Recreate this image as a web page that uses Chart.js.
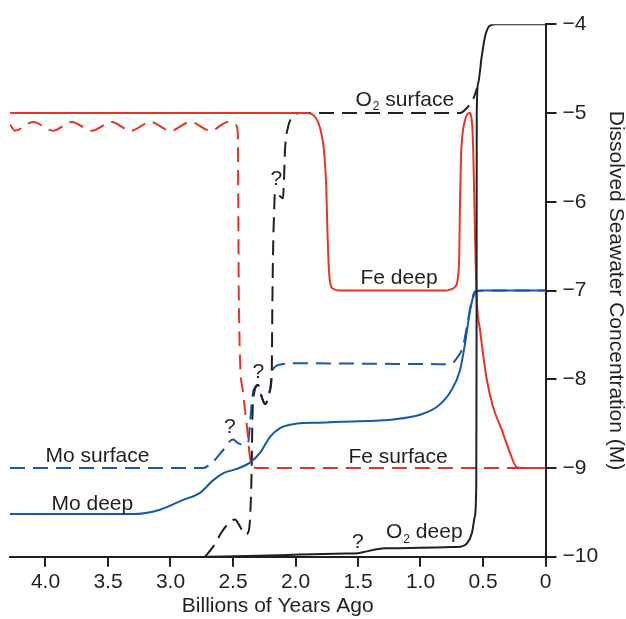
<!DOCTYPE html>
<html>
<head>
<meta charset="utf-8">
<script src="https://cdn.jsdelivr.net/npm/chart.js@4.4.1/dist/chart.umd.min.js"></script>
<style>
  html, body { margin: 0; padding: 0; background: #fff; }
  #wrap { width: 626px; height: 619px; }
</style>
</head>
<body>
<div id="wrap"><canvas id="chart"></canvas></div>
<script>
// ages in billions of years ago, concentrations as log10 (M)
const feDeepAge = [4.284, 2.2, 1.908, 1.86, 1.82, 1.79, 1.77, 1.755, 1.745, 1.735, 1.724, 1.70, 1.64, 0.80, 0.764, 0.724, 0.70, 0.69, 0.684, 0.676, 0.665, 0.644, 0.61, 0.59, 0.578, 0.564, 0.55, 0.524, 0.47, 0.42, 0.35, 0.284, 0.23, 0.18, 0];
const feDeepConc = [-5, -5, -5, -5.02, -5.1, -5.25, -5.45, -5.8, -6.3, -6.7, -6.9, -6.98, -7, -7, -6.99, -6.96, -6.85, -6.6, -6.0, -5.5, -5.25, -5.08, -5.0, -5.08, -5.42, -6.36, -7.1, -7.44, -8.0, -8.31, -8.57, -8.83, -8.99, -9, -9];

const feSurfAge = [4.284, 4.244, 4.10, 3.94, 3.79, 3.63, 3.47, 3.32, 3.16, 3.00, 2.84, 2.68, 2.54, 2.484, 2.462, 2.458, 2.454, 2.45, 2.444, 2.42, 2.388, 2.364, 2.34, 2.30, 0];
const feSurfConc = [-5.13, -5.2, -5.1, -5.2, -5.1, -5.2, -5.1, -5.2, -5.1, -5.2, -5.1, -5.2, -5.1, -5.13, -5.21, -6.0, -7.0, -7.4, -7.78, -8.15, -8.54, -8.88, -8.99, -9, -9];

const o2SurfAge = [2.724, 2.66, 2.58, 2.524, 2.484, 2.444, 2.404, 2.38, 2.364, 2.352, 2.344, 2.33, 2.30, 2.27, 2.244, 2.22, 2.204, 2.19, 2.186, 2.18, 2.172, 2.164, 2.13, 2.10, 2.092, 2.084, 2.06, 2.02, 1.964, 0.684, 0.628, 0.58, 0.548];
const o2SurfConc = [-10, -9.89, -9.7, -9.61, -9.58, -9.66, -9.75, -9.73, -9.58, -9.1, -8.4, -8.15, -8.065, -8.2, -8.28, -8.22, -8.12, -7.93, -7.3, -6.6, -6.15, -5.89, -5.93, -5.96, -5.75, -5.42, -5.16, -5.04, -5.0, -5.0, -4.94, -4.85, -4.72];

const o2DeepAge = [2.71, 2.3, 1.96, 1.6, 1.5, 1.43, 1.35, 1.27, 1.0, 0.75, 0.684, 0.628, 0.588, 0.566, 0.554, 0.552, 0.551, 0.55, 0.5385, 0.511, 0.484, 0.46, 0.43, 0.40, 0];
const o2DeepConc = [-10, -9.99, -9.975, -9.965, -9.96, -9.94, -9.917, -9.906, -9.9, -9.892, -9.888, -9.85, -9.73, -9.55, -9.2, -8.0, -6.5, -5.0, -4.66, -4.37, -4.14, -4.04, -4.005, -4.0, -4.0];

const moSurfAge = [4.284, 2.74, 2.66, 2.58, 2.50, 2.46, 2.42, 2.38, 2.364, 2.352, 2.34, 2.316, 2.30, 2.27, 2.244, 2.22, 2.204, 2.188, 2.164, 2.108, 2.028, 0.76, 0.708, 0.66, 0.628, 0.588, 0.564, 0.5, 0];
const moSurfConc = [-9, -9, -8.93, -8.8, -8.68, -8.72, -8.74, -8.72, -8.5, -8.3, -8.15, -8.08, -8.065, -8.2, -8.28, -8.22, -8.12, -7.93, -7.86, -7.83, -7.82, -7.83, -7.76, -7.63, -7.4, -7.1, -7.01, -7, -7];

const moDeepAge = [4.284, 3.30, 3.084, 2.90, 2.764, 2.66, 2.58, 2.468, 2.364, 2.284, 2.204, 2.124, 1.988, 1.804, 1.644, 1.2, 1.004, 0.868, 0.764, 0.684, 0.644, 0.604, 0.58, 0.548, 0.50, 0];
const moDeepConc = [-9.52, -9.52, -9.47, -9.36, -9.28, -9.14, -9.06, -9.01, -8.94, -8.83, -8.65, -8.55, -8.5, -8.49, -8.48, -8.45, -8.4, -8.31, -8.15, -7.9, -7.6, -7.23, -7.08, -7.01, -7, -7];

// axis ticks
const xTickValues = [0, 0.5, 1.0, 1.5, 2.0, 2.5, 3.0, 3.5, 4.0];
const yTickValues = [-10, -9, -8, -7, -6, -5, -4];

// text labels in the plot, placed in data units (left edge, baseline)
const noteText = ['O_2 surface', 'Fe deep', 'Fe surface', 'Mo surface', 'Mo deep', 'O_2 deep', '?', '?', '?', '?'];
const noteAge = [1.52, 1.48, 1.576, 4.0, 3.952, 1.276, 1.548, 2.572, 2.344, 2.2];
const noteConc = [-4.918, -6.925, -8.94, -8.93, -9.474, -9.79, -9.906, -8.61, -7.99, -5.81];

const red = '#e6332a';
const blue = '#1559a8';
const black = '#231f20';
const fontFamily = "'Liberation Sans', Arial, Helvetica, sans-serif";

function toPoints(ages, concs) {
    const pts = [];
    for (let i = 0; i < ages.length; i++) {
        pts.push({ x: ages[i], y: concs[i] });
    }
    return pts;
}

function makeLine(label, ages, concs, color, dashed) {
    return {
        label: label,
        data: toPoints(ages, concs),
        borderColor: color,
        borderWidth: 2,
        borderDash: dashed ? [15, 8] : [],
        pointRadius: 0,
        fill: false,
        cubicInterpolationMode: 'monotone'
    };
}

// draws the series names and question marks
const notesPlugin = {
    id: 'notes',
    afterDatasetsDraw(chart) {
        const ctx = chart.ctx;
        const xs = chart.scales.x;
        const ys = chart.scales.y;
        ctx.save();
        ctx.fillStyle = black;
        ctx.textAlign = 'left';
        ctx.textBaseline = 'alphabetic';
        for (let i = 0; i < noteText.length; i++) {
            let px = xs.getPixelForValue(noteAge[i]);
            const py = ys.getPixelForValue(noteConc[i]);
            const parts = noteText[i].split('_');
            ctx.font = '21px ' + fontFamily;
            ctx.fillText(parts[0], px, py);
            px += ctx.measureText(parts[0]).width;
            for (let j = 1; j < parts.length; j++) {
                const sub = parts[j].charAt(0);
                const rest = parts[j].slice(1);
                ctx.font = '12px ' + fontFamily;
                ctx.fillText(sub, px + 1, py + 4.5);
                px += ctx.measureText(sub).width + 1;
                ctx.font = '21px ' + fontFamily;
                ctx.fillText(rest, px, py);
                px += ctx.measureText(rest).width;
            }
        }
        ctx.restore();
    }
};

new Chart(document.getElementById('chart'), {
    type: 'line',
    data: {
        datasets: [
            makeLine('O2 deep', o2DeepAge, o2DeepConc, black, false),
            makeLine('Fe deep', feDeepAge, feDeepConc, red, false),
            makeLine('Mo deep', moDeepAge, moDeepConc, blue, false),
            makeLine('O2 surface', o2SurfAge, o2SurfConc, black, true),
            makeLine('Fe surface', feSurfAge, feSurfConc, red, true),
            makeLine('Mo surface', moSurfAge, moSurfConc, blue, true)
        ]
    },
    options: {
        responsive: true,
        maintainAspectRatio: false,
        animation: false,
        layout: { padding: { left: 10, top: 24.3, right: 0, bottom: 0 } },
        plugins: {
            legend: { display: false },
            tooltip: { enabled: false }
        },
        scales: {
            x: {
                type: 'linear',
                reverse: true,
                min: 0,
                max: 4.284,
                afterBuildTicks: scale => {
                    scale.ticks = xTickValues.map(v => ({ value: v }));
                },
                afterFit: scale => { scale.height = 62.3; },
                grid: { drawOnChartArea: false, drawTicks: true, tickLength: 10, color: black, lineWidth: 2 },
                border: { display: true, color: black, width: 2 },
                ticks: {
                    padding: 3,
                    color: black,
                    font: { family: fontFamily, size: 21 },
                    callback: v => v === 0 ? '0' : v.toFixed(1)
                },
                title: {
                    display: true,
                    text: 'Billions of Years Ago',
                    color: black,
                    padding: 0,
                    font: { family: fontFamily, size: 21 }
                }
            },
            y: {
                type: 'linear',
                position: 'right',
                min: -10,
                max: -4,
                afterBuildTicks: scale => {
                    scale.ticks = yTickValues.map(v => ({ value: v }));
                },
                afterFit: scale => { scale.width = 80.5; },
                grid: { drawOnChartArea: false, drawTicks: true, tickLength: 11, color: black, lineWidth: 2 },
                border: { display: true, color: black, width: 2 },
                ticks: {
                    padding: 6,
                    color: black,
                    font: { family: fontFamily, size: 21 },
                    callback: v => '\u2212' + Math.abs(v)
                },
                title: {
                    display: true,
                    text: 'Dissolved Seawater Concentration (M)',
                    color: black,
                    padding: 0,
                    font: { family: fontFamily, size: 21, lineHeight: 1 }
                }
            }
        }
    },
    plugins: [notesPlugin]
});
</script>
</body>
</html>
